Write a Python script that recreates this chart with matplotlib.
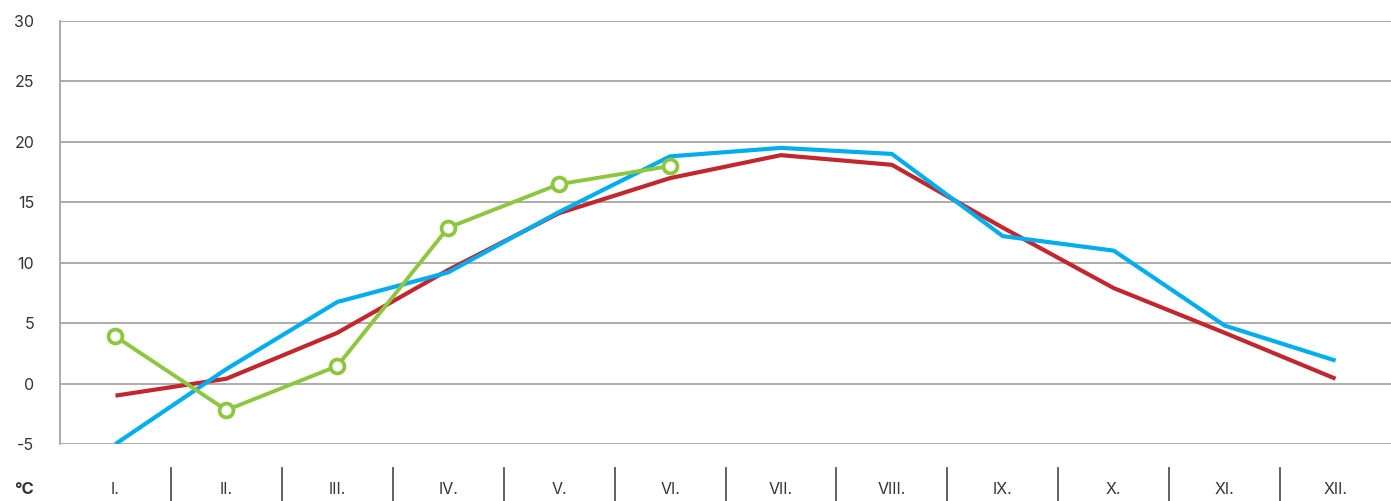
import matplotlib
matplotlib.use("Agg")
import matplotlib.pyplot as plt
import matplotlib.transforms as mtrans

months = ["I.", "II.", "III.", "IV.", "V.", "VI.", "VII.", "VIII.", "IX.", "X.", "XI.", "XII."]
red_vals = [-1.0, 0.4, 4.2, 9.4, 14.1, 17.0, 18.9, 18.1, 12.9, 7.9, 4.2, 0.4]
blue_vals = [-5.0, 1.2, 6.75, 9.2, 14.2, 18.8, 19.5, 19.0, 12.2, 11.0, 4.8, 1.9]
green_vals = [3.9, -2.2, 1.45, 12.9, 16.5, 18.0]
yticks = [-5, 0, 5, 10, 15, 20, 25, 30]

plt.rcParams['font.family'] = ['Inter', 'DejaVu Sans']
W, H = 1391, 501
fig = plt.figure(figsize=(W/100, H/100), dpi=100)
ax = fig.add_axes([60/W, (H-444)/H, (W-60)/W, (444-21)/H])

gray = "#a6a6a6"
txt = "#333333"
fs = 11.5
for y in yticks:
    ax.axhline(y, color=gray, lw=1.3, zorder=1)

x = list(range(len(months)))
ax.plot(x, red_vals, color="#c1272d", lw=3.0, zorder=3, solid_capstyle='butt')
ax.plot(x, blue_vals, color="#00aeef", lw=3.0, zorder=4, solid_capstyle='butt')
ax.plot(x[:len(green_vals)], green_vals, color="#8dc63f", lw=2.8, zorder=5,
        marker='o', markersize=10, markerfacecolor='white', markeredgecolor="#8dc63f",
        markeredgewidth=2.7)

ax.set_xlim(-0.5, 11.5)
ax.set_ylim(-5, 30)
for s in ['top', 'right', 'bottom']:
    ax.spines[s].set_visible(False)
ax.spines['left'].set_color(gray)
ax.spines['left'].set_linewidth(1.3)

ax.set_yticks(yticks)
ax.set_yticklabels([str(v) for v in yticks], fontsize=fs, color=txt)
ax.tick_params(axis='y', length=0, pad=18.5)
ax.set_xticks([])

trans = mtrans.blended_transform_factory(ax.transData, ax.transAxes)
ylab = -(489-444)/423
for i, m in enumerate(months):
    ax.text(i, ylab, m, transform=trans, ha='center', va='center',
            fontsize=fs, color=txt, clip_on=False)
for i in range(1, len(months)):
    ax.plot([i - 0.5, i - 0.5], [-(468-444)/423, -(501-444)/423], color="#555555",
            lw=1.3, transform=trans, clip_on=False)

fig.text(14/W, (H-489)/H, "°C", fontsize=fs + 0.5, fontweight='bold', color=txt,
         va='center', ha='left')

fig.savefig("out.png", dpi=100)
